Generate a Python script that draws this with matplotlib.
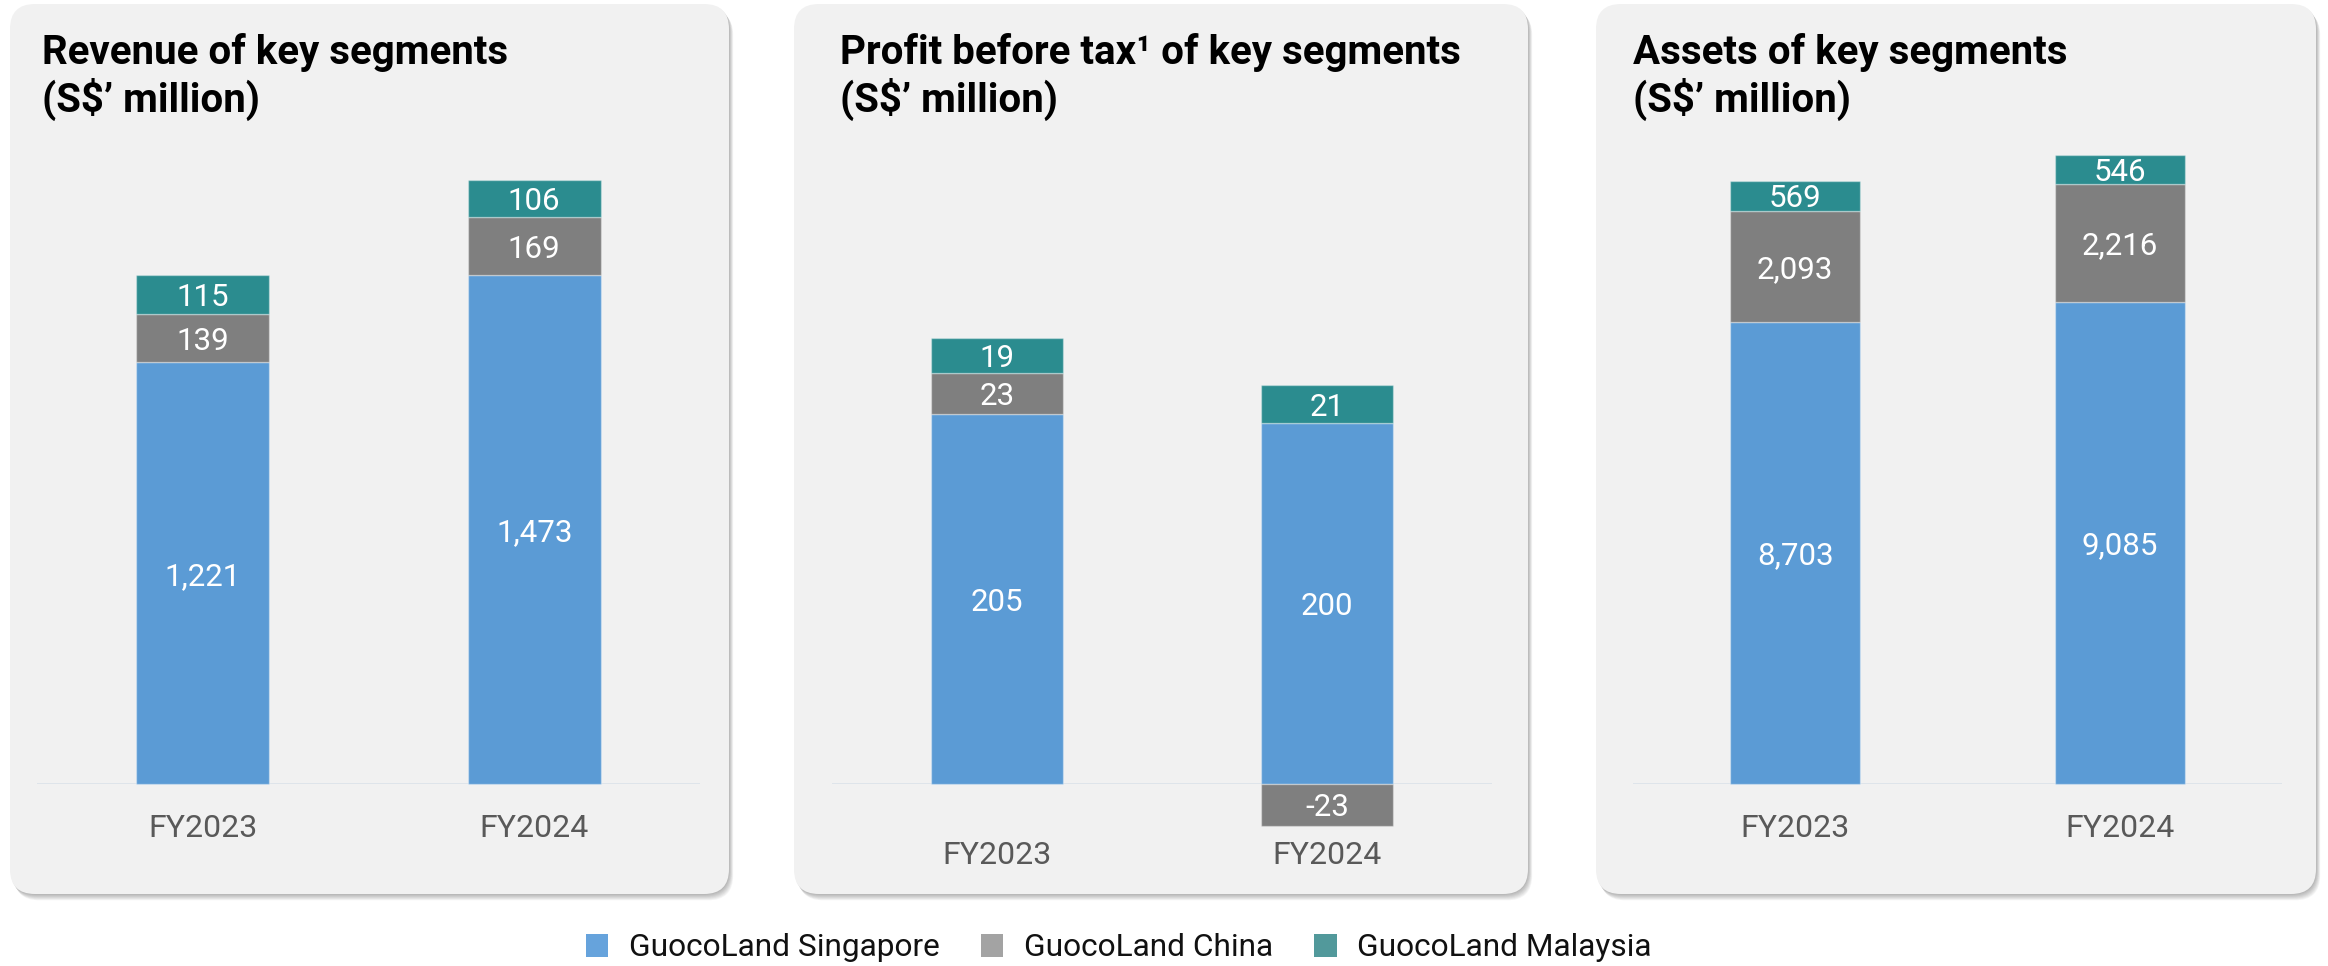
import matplotlib
matplotlib.use('Agg')
import matplotlib.pyplot as plt
from matplotlib.patches import FancyBboxPatch, Patch
import numpy as np

plt.rcParams['font.family'] = ['Roboto', 'DejaVu Sans']

# data (S$ million)
categories = ['FY2023', 'FY2024']
series_names = ['GuocoLand Singapore', 'GuocoLand China', 'GuocoLand Malaysia']
colors = ['#5B9BD5', '#7F7F7F', '#2B8C8F']
legend_colors = ['#66A3DC', '#A3A3A3', '#52999B']

revenue_sg = [1221, 1473]
revenue_cn = [139, 169]
revenue_my = [115, 106]

pbt_sg = [205, 200]
pbt_cn = [23, -23]
pbt_my = [19, 21]

assets_sg = [8703, 9085]
assets_cn = [2093, 2216]
assets_my = [569, 546]

titles = [
    ['Revenue of key segments', '(S$\u2019 million)'],
    ['Profit before tax\u00b9 of key segments', '(S$\u2019 million)'],
    ['Assets of key segments', '(S$\u2019 million)'],
]

W, H = 2328, 966
fig = plt.figure(figsize=(W / 100, H / 100), dpi=100)
fig.patch.set_facecolor('white')

# background layer in pixel coordinates (y down)
bg = fig.add_axes([0, 0, 1, 1], zorder=0)
bg.set_xlim(0, W)
bg.set_ylim(H, 0)
bg.axis('off')

panels = [(10, 4, 729, 894), (794, 4, 1528, 894), (1596, 4, 2316, 894)]
for (x0, y0, x1, y1) in panels:
    for k in range(1, 8):
        sh = FancyBboxPatch((x0 + 25 + k * 0.6, y0 + 25 + k * 0.9),
                            x1 - x0 - 50, y1 - y0 - 50,
                            boxstyle='round,pad=25', facecolor='#000000',
                            edgecolor='none', alpha=0.045)
        bg.add_patch(sh)
    box = FancyBboxPatch((x0 + 25, y0 + 25), x1 - x0 - 50, y1 - y0 - 50,
                         boxstyle='round,pad=25', facecolor='#F1F1F1',
                         edgecolor='none')
    bg.add_patch(box)

# chart axes: x extents in px, common top/bottom (bottom = zero line)
ax_x = [(37, 700), (832, 1492), (1633, 2282)]
ax_top, ax_bot = 120, 784
ylims = [1923, 368, 12505]
title_x = [42, 840, 1633]
tick_pads = [53, 80, 53]

datasets = [
    [revenue_sg, revenue_cn, revenue_my],
    [pbt_sg, pbt_cn, pbt_my],
    [assets_sg, assets_cn, assets_my],
]

for i, data in enumerate(datasets):
    xa, xb = ax_x[i]
    ax = fig.add_axes([xa / W, 1 - ax_bot / H, (xb - xa) / W, (ax_bot - ax_top) / H], zorder=2)
    ax.patch.set_alpha(0)
    x = np.arange(len(categories))
    pos = np.zeros(len(categories))
    neg = np.zeros(len(categories))
    for vals, col in zip(data, colors):
        vals = np.array(vals, dtype=float)
        bottom = np.where(vals >= 0, pos, neg)
        ax.bar(x, vals, 0.4, bottom=bottom, color=col,
               edgecolor=(1, 1, 1, 0.35), linewidth=1, clip_on=False, zorder=3)
        for xi, v, b in zip(x, vals, bottom):
            ax.text(xi, b + v / 2, f'{int(v):,}', ha='center', va='center_baseline',
                    color='white', fontsize=22.5, zorder=4, clip_on=False)
        pos = pos + np.where(vals >= 0, vals, 0)
        neg = neg + np.where(vals < 0, vals, 0)
    ax.axhline(0, color='#DCE3EA', lw=2, zorder=2)
    ax.set_xlim(-0.5, 1.5)
    ax.set_ylim(0, ylims[i])
    ax.set_xticks(x)
    ax.set_xticklabels(categories, fontsize=23, color='#595959')
    ax.tick_params(axis='x', length=0, pad=tick_pads[i] * 0.72)
    for lbl in ax.get_xticklabels():
        lbl.set_va('baseline')
    ax.set_yticks([])
    for s in ax.spines.values():
        s.set_visible(False)

    fig.text(title_x[i] / W, 1 - 64 / H, titles[i][0], fontsize=29,
             fontweight='bold', color='black', va='baseline', ha='left')
    fig.text(title_x[i] / W, 1 - 112 / H, titles[i][1], fontsize=29,
             fontweight='bold', color='black', va='baseline', ha='left')

handles = [Patch(facecolor=c, edgecolor='none') for c in legend_colors]
fig.legend(handles, series_names, loc='center', ncol=3, frameon=False,
           bbox_to_anchor=(1119 / W, 1 - 948 / H), fontsize=22.8,
           handlelength=0.7, handleheight=0.7, handletextpad=0.66,
           columnspacing=1.3, borderpad=0, labelcolor='#111111')

fig.savefig('out.png', dpi=100, facecolor='white')
